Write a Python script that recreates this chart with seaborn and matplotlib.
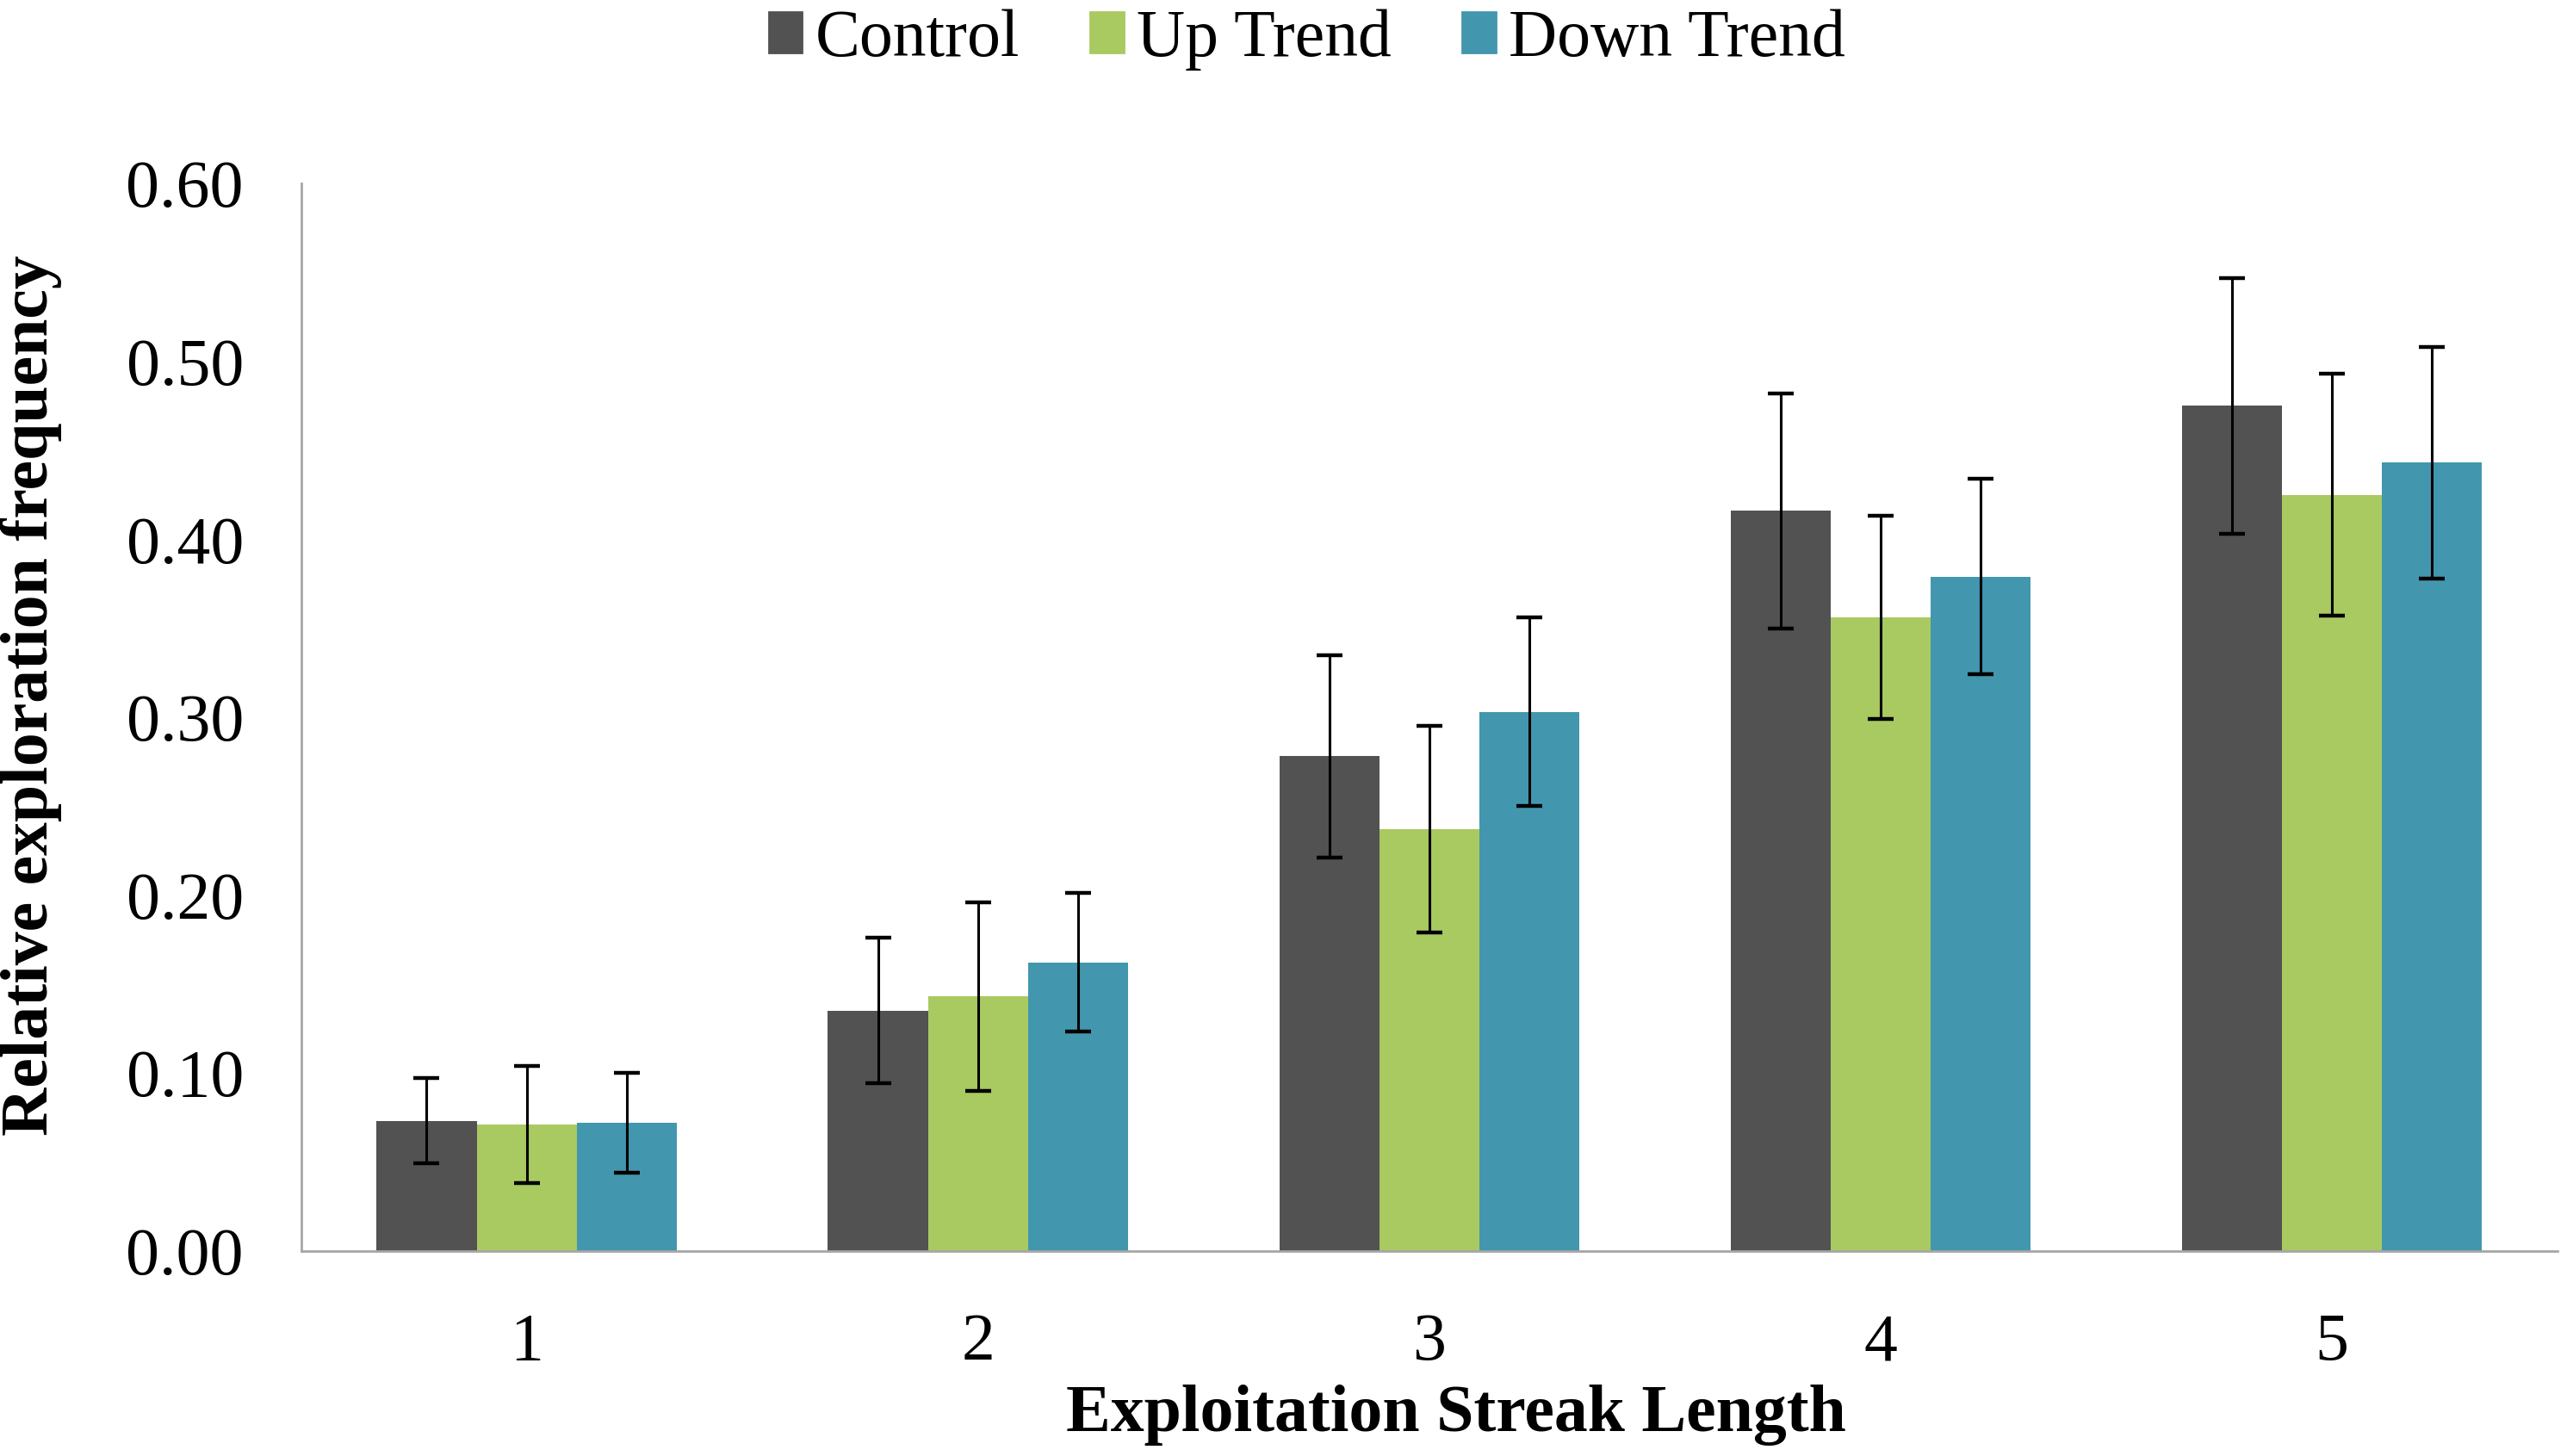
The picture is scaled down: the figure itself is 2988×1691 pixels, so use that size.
import numpy as np
import pandas as pd
import matplotlib
matplotlib.use('Agg')
import matplotlib.pyplot as plt
import seaborn as sns
from matplotlib.ticker import FormatStrFormatter, FixedLocator

# Values
streak_lengths = ['1', '2', '3', '4', '5']
conditions = ['Control', 'Up Trend', 'Down Trend']
control_mean = [0.073, 0.135, 0.278, 0.416, 0.475]
up_mean = [0.071, 0.143, 0.237, 0.356, 0.425]
down_mean = [0.072, 0.162, 0.303, 0.379, 0.443]
control_err = [0.024, 0.041, 0.057, 0.066, 0.072]
up_err = [0.033, 0.053, 0.058, 0.057, 0.068]
down_err = [0.028, 0.039, 0.053, 0.055, 0.065]
colors = ['#525252', '#A9C961', '#4297AE']

means = {'Control': control_mean, 'Up Trend': up_mean, 'Down Trend': down_mean}
errs = {'Control': control_err, 'Up Trend': up_err, 'Down Trend': down_err}

df = pd.DataFrame({
    'streak': np.tile(streak_lengths, len(conditions)),
    'condition': np.repeat(conditions, len(streak_lengths)),
    'freq': np.concatenate([means[c] for c in conditions]),
})

sns.set_style('white')
plt.rcParams['font.family'] = ['Liberation Serif', 'DejaVu Serif']
plt.rcParams['text.color'] = 'black'
plt.rcParams['axes.labelcolor'] = 'black'
plt.rcParams['xtick.color'] = 'black'
plt.rcParams['ytick.color'] = 'black'

fig = plt.figure(figsize=(14.94, 8.455), dpi=200)
ax = fig.add_axes([0.117, 0.141, 0.877, 0.733])

sns.barplot(data=df, x='streak', y='freq', hue='condition', order=streak_lengths,
            hue_order=conditions, palette=colors, width=0.665, errorbar=None,
            saturation=1, linewidth=0, ax=ax, legend=True)

# error bars centred on each bar drawn by seaborn
for cond, container in zip(conditions, ax.containers):
    xs = [p.get_x() + p.get_width() / 2 for p in container.patches]
    ys = [p.get_height() for p in container.patches]
    ax.errorbar(xs, ys, yerr=errs[cond], fmt='none', ecolor='black',
                elinewidth=1.1, capsize=5.5, capthick=1.6, zorder=5)

ax.set_xlim(-0.5, 4.5)
ax.set_ylim(0, 0.6)
ax.set_yticks(np.arange(0, 0.61, 0.1))
ax.yaxis.set_major_formatter(FormatStrFormatter('%.2f'))

ax.xaxis.set_minor_locator(FixedLocator(np.arange(-0.5, 4.6, 1.0)))
ax.tick_params(axis='x', which='major', length=0, pad=26, labelsize=28)
ax.tick_params(axis='x', which='minor', length=8, width=1.0, color='#A6A6A6', direction='out')
ax.tick_params(axis='y', length=5, width=1.0, color='#A6A6A6', direction='out',
               labelsize=28, pad=19)

for side in ['top', 'right']:
    ax.spines[side].set_visible(False)
for side in ['left', 'bottom']:
    ax.spines[side].set_color('#A6A6A6')
    ax.spines[side].set_linewidth(1.0)

ax.set_xlabel('Exploitation Streak Length', fontsize=28, fontweight='bold')
ax.set_ylabel('Relative exploration frequency', fontsize=28, fontweight='bold')
ax.xaxis.set_label_coords(0.512, -0.125)
ax.yaxis.set_label_coords(-0.106, 0.52)

ax.get_legend().remove()
handles = [plt.Rectangle((0, 0), 1, 1, color=c) for c in colors]
fig.legend(handles, conditions, loc='upper center', bbox_to_anchor=(0.508, 1.035),
           ncol=3, frameon=False, fontsize=28, handlelength=0.5, handleheight=0.55,
           handletextpad=0.2, columnspacing=1.05)

fig.savefig('out.png', dpi=200)
